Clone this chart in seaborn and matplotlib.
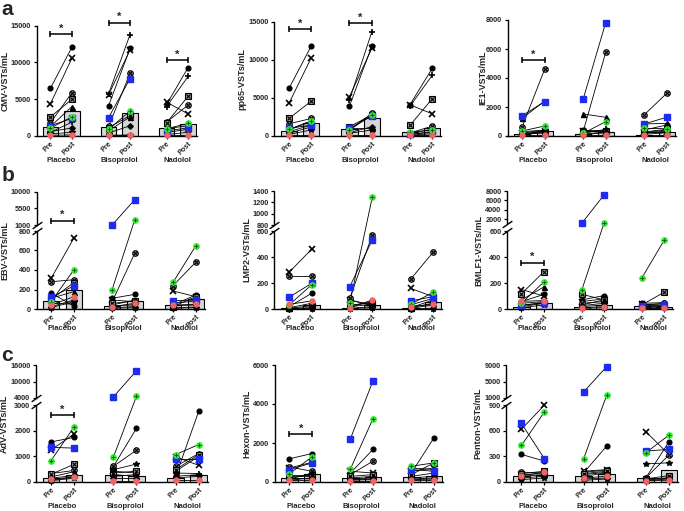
import matplotlib
matplotlib.use("Agg")
import matplotlib.pyplot as plt
import matplotlib.transforms as mtransforms
from matplotlib.path import Path
import numpy as np
import seaborn as sns

sns.set_style("ticks")
plt.rcParams["font.family"] = ["Liberation Sans", "DejaVu Sans"]
plt.rcParams["font.weight"] = "bold"
plt.rcParams["axes.labelweight"] = "bold"

groups = ["Placebo", "Bisoprolol", "Nadolol"]
timepoints = ["Pre", "Post"]
subjects = ["circle", "x", "otimes", "boxtimes", "triangle", "plus",
            "blue", "green", "red", "diamond", "star"]

# values per group [placebo, bisoprolol, nadolol], in the order of `subjects`
cmv_pre = [[6500, 4400, 1800, 2600, 1300, 500, 1400, 1100, 100, 600, 300],
           [4100, 5600, 1300, 1100, 700, 5700, 2500, 900, 100, 400, 200],
           [4300, 4600, 1900, 1800, 1000, 4000, 700, 1000, 100, 500, 200]]
cmv_post = [[12100, 10600, 5900, 5000, 4000, 1900, 2400, 2600, 150, 1100, 500],
            [11900, 11700, 8500, 2800, 2600, 13800, 7800, 3400, 150, 1400, 200],
            [9300, 3000, 4200, 5400, 1400, 8100, 1100, 1700, 100, 900, 500]]
cmv_bar_pre = [1200, 1250, 1100]
cmv_bar_post = [3400, 3150, 1650]
cmv_sig = [13870, 15400, 10340]

pp65_pre = [[6250, 4280, 1600, 2300, 800, 570, 1000, 870, 130, 350, 200],
            [3930, 5160, 790, 1220, 1100, 4720, 1000, 790, 130, 440, 350],
            [4100, 4100, 400, 1400, 300, 3900, 200, 500, 100, 200, 100]]
pp65_post = [[11840, 10300, 2300, 4590, 1900, 1440, 1440, 2000, 130, 1200, 800],
             [11800, 11500, 2970, 2750, 1100, 13680, 2620, 2750, 130, 1220, 790],
             [8900, 2900, 1300, 4900, 900, 8000, 600, 800, 100, 500, 300]]
pp65_bar_pre = [650, 920, 480]
pp65_bar_post = [1660, 2400, 1000]
pp65_sig = [14040, 14830, None]

ie1_pre = [[300, 230, 640, 180, 1220, 140, 1400, 350, 70, 115, 90],
           [410, 345, 300, 280, 1520, 180, 2530, 180, 50, 115, 90],
           [410, 300, 1450, 280, 830, 230, 830, 530, 50, 180, 115]]
ie1_post = [[410, 370, 4620, 300, 2420, 320, 2370, 690, 70, 230, 230],
            [410, 300, 5770, 370, 1290, 460, 7820, 990, 50, 300, 230],
            [760, 300, 2940, 460, 870, 410, 1290, 500, 50, 345, 230]]
ie1_bar_pre = [115, 140, 90]
ie1_bar_post = [330, 280, 300]
ie1_sig = [5240, None, None]

ebv_pre = [[164, 315, 280, 100, 110, 58, 120, 75, 41, 24, 14],
           [110, 92, 75, 58, 41, 34, 1000, 200, 24, 14, 7],
           [41, 185, 240, 24, 58, 34, 85, 274, 41, 14, 7]]
ebv_post = [[31, 725, 300, 270, 178, 50, 236, 400, 126, 92, 75],
            [150, 75, 571, 82, 92, 41, 7900, 2400, 58, 24, 14],
            [144, 127, 479, 127, 82, 41, 92, 646, 48, 20, 14]]
ebv_bar_pre = [82, 34, 41]
ebv_bar_post = [195, 82, 99]
ebv_sig = [2170, None, None]

lmp2_pre = [[18, 282, 254, 5, 10, 5, 90, 31, 36, 3, 3],
            [69, 69, 82, 31, 26, 18, 172, 44, 10, 5, 3],
            [31, 159, 228, 10, 10, 5, 62, 36, 18, 3, 3]]
lmp2_post = [[120, 459, 254, 26, 44, 10, 197, 185, 62, 5, 3],
             [26, 31, 569, 44, 56, 36, 531, 1292, 69, 18, 10],
             [82, 95, 436, 69, 44, 31, 95, 128, 36, 5, 3]]
lmp2_bar_pre = [10, 10, 10]
lmp2_bar_post = [31, 31, 56]
lmp2_sig = [None, None, None]

bmlf1_pre = [[57, 150, 44, 117, 70, 26, 31, 44, 59, 18, 10],
             [70, 57, 44, 114, 31, 26, 1050, 143, 10, 18, 5],
             [44, 36, 31, 31, 20, 15, 25, 238, 10, 12, 5]]
bmlf1_post = [[112, 100, 57, 286, 169, 52, 44, 208, 65, 44, 31],
              [103, 78, 57, 70, 70, 44, 7120, 1050, 18, 31, 10],
              [49, 31, 44, 129, 25, 20, 30, 528, 10, 15, 8]]
bmlf1_bar_pre = [18, 18, 23]
bmlf1_bar_post = [44, 31, 18]
bmlf1_sig = [356, None, None]

adv_pre = [[1560, 1250, 330, 300, 200, 150, 1350, 830, 100, 80, 50],
           [600, 420, 610, 350, 290, 220, 4370, 965, 50, 160, 480],
           [220, 980, 610, 480, 420, 350, 900, 1070, 90, 220, 160]]
adv_post = [[1740, 1870, 450, 690, 400, 250, 1320, 2150, 200, 180, 150],
            [2090, 350, 1240, 420, 220, 290, 13900, 4600, 50, 160, 700],
            [2760, 650, 1110, 1070, 1000, 330, 900, 1460, 90, 290, 220]]
adv_bar_pre = [160, 290, 160]
adv_bar_post = [290, 250, 290]
adv_sig = [2610, None, None]

hexon_pre = [[1190, 720, 770, 380, 290, 210, 640, 430, 120, 150, 90],
             [460, 550, 380, 290, 210, 150, 2220, 670, 30, 120, 90],
             [460, 550, 720, 380, 290, 210, 640, 810, 90, 150, 120]]
hexon_post = [[1460, 1010, 550, 380, 290, 150, 980, 1290, 120, 460, 210],
              [1670, 460, 1070, 380, 290, 210, 5190, 3250, 30, 150, 120],
              [2270, 720, 640, 980, 460, 290, 550, 980, 90, 210, 150]]
hexon_bar_pre = [210, 210, 240]
hexon_bar_post = [410, 240, 330]
hexon_sig = [2460, None, None]

penton_pre = [[322, 617, 114, 98, 86, 67, 684, 428, 75, 47, 28],
              [106, 126, 114, 98, 86, 67, 2470, 271, 47, 35, 20],
              [47, 590, 47, 35, 28, 20, 362, 342, 16, 35, 212]]
penton_post = [[244, 900, 106, 126, 98, 86, 271, 821, 114, 67, 47],
               [420, 145, 138, 126, 114, 106, 8590, 1650, 67, 47, 35],
               [468, 322, 314, 75, 47, 35, 381, 546, 20, 47, 224]]
penton_bar_pre = [67, 67, 47]
penton_bar_post = [86, 94, 145]
penton_sig = [None, None, None]

positions = [0, 1, 2.7, 3.7, 5.4, 6.4]

MARKERS = {
    "circle": [dict(marker="o", ms=3.4, mfc="black", mec="black")],
    "x": [dict(marker="x", ms=3.8, mec="black", mew=1.2)],
    "otimes": [dict(marker="o", ms=4.0, mfc="#9a9a9a", mec="black", mew=0.8),
               dict(marker="x", ms=2.5, mec="black", mew=0.8)],
    "boxtimes": [dict(marker="s", ms=3.8, mfc="#9a9a9a", mec="black", mew=0.8),
                 dict(marker="x", ms=2.5, mec="black", mew=0.8)],
    "triangle": [dict(marker="^", ms=3.6, mfc="black", mec="black")],
    "plus": [dict(marker="+", ms=4.3, mec="black", mew=1.2)],
    "blue": [dict(marker="s", ms=4.0, mfc="#1f2cf0", mec="#1f2cf0")],
    "green": [dict(marker="o", ms=3.8, mfc="#33e633", mec="#33e633"),
              dict(marker="+", ms=2.5, mec="#0b4d0b", mew=0.6)],
    "red": [dict(marker="o", ms=3.6, mfc="#f26464", mec="#f26464")],
    "diamond": [dict(marker="D", ms=2.8, mfc="black", mec="black")],
    "star": [dict(marker="*", ms=4.0, mfc="black", mec="black")],
}

SLASH = Path([(-1.0, -0.7), (1.0, 0.7)], [Path.MOVETO, Path.LINETO])


def make_break(lo, hi, top, L, G, U):
    xs = np.array([-top, 0, lo, hi, top, 3 * top], dtype=float)
    ys = np.array([-L * top / lo, 0, L, L + G, L + G + U,
                   L + G + U + U * 2 * top / (top - hi)], dtype=float)

    def fwd(v):
        return np.interp(v, xs, ys)

    def inv(v):
        return np.interp(v, ys, xs)

    return fwd, inv


def px_rect(x0, y0, x1, y1):
    return [x0 / 684, 1 - y1 / 511, (x1 - x0) / 684, (y1 - y0) / 511]


def draw_panel(fig, spec):
    x0p, y0p, x1p, y1p = spec["rect"]
    ax = fig.add_axes(px_rect(x0p, y0p, x1p, y1p))
    brk = spec.get("brk")
    if brk:
        fwd, inv = make_break(*brk)
        ax.set_yscale("function", functions=(fwd, inv))

    bar_h = []
    for a, b in zip(spec["bar_pre"], spec["bar_post"]):
        bar_h += [a, b]
    sns.barplot(x=positions, y=bar_h, native_scale=True, color="#d6d6d6",
                saturation=1, edgecolor="black", linewidth=0.8, width=0.72,
                errorbar=None, ax=ax, zorder=1)

    for g in range(3):
        x0, x1 = positions[2 * g], positions[2 * g + 1]
        pre, post = spec["pre"][g], spec["post"][g]
        for s, name in enumerate(subjects):
            ax.plot([x0, x1], [pre[s], post[s]], color="black", lw=0.6,
                    zorder=2, clip_on=False)
        for s, name in enumerate(subjects):
            z = 4 if name in ("blue", "green", "red") else 3
            for layer in MARKERS[name]:
                ax.plot([x0, x1], [pre[s], post[s]], ls="none", zorder=z,
                        clip_on=False, **layer)
        h = spec["sig"][g]
        if h is not None:
            ax.plot([x0, x1], [h, h], color="black", lw=1.1, clip_on=False, zorder=5)
            ax.plot([x0, x1], [h, h], ls="none", marker="|", ms=5, mew=1.1,
                    color="black", clip_on=False, zorder=5)
            ax.annotate("*", xy=((x0 + x1) / 2, h), xytext=(0, 0.3),
                        textcoords="offset points", ha="center", va="bottom",
                        fontsize=8, fontweight="bold", annotation_clip=False)
        ax.annotate(groups[g], xy=((x0 + x1) / 2, 0), xycoords=("data", "axes fraction"),
                    xytext=(0, -spec["glab"] * 0.72), textcoords="offset points",
                    ha="center", va="center", fontsize=5.5, fontweight="bold",
                    annotation_clip=False)

    ax.set_xlim(-0.65, 6.8)
    ax.set_ylim(0, spec["ticks"][-1])
    ax.set_xticks(positions)
    ax.set_xticklabels(timepoints * 3, rotation=45, ha="right",
                       rotation_mode="anchor", fontsize=5.2, fontweight="bold")
    ax.set_yticks(spec["ticks"])
    ax.set_yticklabels([str(t) for t in spec["ticks"]], fontsize=5.3, fontweight="bold")
    ax.minorticks_off()
    ax.tick_params(axis="both", length=2.5, width=0.9, pad=1.5, color="black")
    ax.tick_params(axis="x", pad=0.8)
    ax.set_xlabel("")
    ax.set_ylabel(spec["ylabel"], fontsize=6.5, fontweight="bold")
    ax.yaxis.set_label_coords((spec["ylab_x"] - x0p) / (x1p - x0p), 0.5)
    sns.despine(ax=ax)
    ax.spines["bottom"].set_linewidth(1.0)
    ax.spines["bottom"].set_color("black")
    ax.spines["left"].set_linewidth(1.0)
    ax.spines["left"].set_color("black")

    if brk:
        lo, hi, top = brk[0], brk[1], brk[2]
        ax.spines["left"].set_visible(False)
        trans = mtransforms.blended_transform_factory(ax.transAxes, ax.transData)
        ax.plot([0, 0], [0, lo], transform=trans, color="black", lw=1.0,
                clip_on=False, zorder=6)
        ax.plot([0, 0], [hi, top], transform=trans, color="black", lw=1.0,
                clip_on=False, zorder=6)
        ax.plot([0, 0], [lo, hi], transform=trans, ls="none", marker=SLASH,
                ms=7, mew=1.0, color="black", clip_on=False, zorder=6)
    return ax


panels = [
    dict(rect=(36.5, 25.7, 196.7, 136), ylabel="CMV-VSTs/mL", pre=cmv_pre, post=cmv_post,
         bar_pre=cmv_bar_pre, bar_post=cmv_bar_post, sig=cmv_sig,
         ticks=[0, 5000, 10000, 15000], glab=24, ylab_x=9.5),
    dict(rect=(274.4, 21.7, 441.3, 136), ylabel="pp65-VSTs/mL", pre=pp65_pre, post=pp65_post,
         bar_pre=pp65_bar_pre, bar_post=pp65_bar_post, sig=pp65_sig,
         ticks=[0, 5000, 10000, 15000], glab=24, ylab_x=246.5),
    dict(rect=(507.5, 20, 675.7, 136), ylabel="IE1-VSTs/mL", pre=ie1_pre, post=ie1_post,
         bar_pre=ie1_bar_pre, bar_post=ie1_bar_post, sig=ie1_sig,
         ticks=[0, 2000, 4000, 6000, 8000], glab=24, ylab_x=487),
    dict(rect=(36.5, 192, 204.7, 309), ylabel="EBV-VSTs/mL", pre=ebv_pre, post=ebv_post,
         bar_pre=ebv_bar_pre, bar_post=ebv_bar_post, sig=ebv_sig,
         ticks=[0, 200, 400, 600, 800, 1000, 5500, 10000], glab=19, ylab_x=9.5,
         brk=(800, 1000, 10000, 78, 6, 33)),
    dict(rect=(274.4, 191, 442, 309), ylabel="LMP2-VSTs/mL", pre=lmp2_pre, post=lmp2_post,
         bar_pre=lmp2_bar_pre, bar_post=lmp2_bar_post, sig=lmp2_sig,
         ticks=[0, 200, 400, 600, 800, 1000, 1200, 1400], glab=19, ylab_x=251,
         brk=(600, 800, 1400, 78, 6, 34)),
    dict(rect=(507, 191, 673, 309), ylabel="BMLF1-VSTs/mL", pre=bmlf1_pre, post=bmlf1_post,
         bar_pre=bmlf1_bar_pre, bar_post=bmlf1_bar_post, sig=bmlf1_sig,
         ticks=[0, 200, 400, 600, 2000, 4000, 6000, 8000], glab=19, ylab_x=483.5,
         brk=(600, 1000, 8000, 78, 7.3, 32.7)),
    dict(rect=(36, 365, 208, 482), ylabel="AdV-VSTs/mL", pre=adv_pre, post=adv_post,
         bar_pre=adv_bar_pre, bar_post=adv_bar_post, sig=adv_sig,
         ticks=[0, 1000, 2000, 3000, 4000, 10000, 16000], glab=24, ylab_x=8.5,
         brk=(3000, 4000, 16000, 77, 7, 33)),
    dict(rect=(274.8, 365, 443, 482), ylabel="Hexon-VSTs/mL", pre=hexon_pre, post=hexon_post,
         bar_pre=hexon_bar_pre, bar_post=hexon_bar_post, sig=hexon_sig,
         ticks=[0, 2000, 4000, 6000], glab=24, ylab_x=251.5),
    dict(rect=(506.5, 365, 678, 482), ylabel="Penton-VSTs/mL", pre=penton_pre, post=penton_post,
         bar_pre=penton_bar_pre, bar_post=penton_bar_post, sig=penton_sig,
         ticks=[0, 300, 600, 900, 1000, 5000, 9000], glab=24, ylab_x=482.5,
         brk=(900, 1000, 9000, 77, 7, 33)),
]

fig = plt.figure(figsize=(6.84, 5.11), dpi=100)
for spec in panels:
    draw_panel(fig, spec)

for letter, ypx in [("a", 0), ("b", 166), ("c", 346)]:
    fig.text(0.002, 1 - ypx / 511, letter, fontsize=15, fontweight="bold", va="top", ha="left")

fig.savefig("out.png", dpi=100)
